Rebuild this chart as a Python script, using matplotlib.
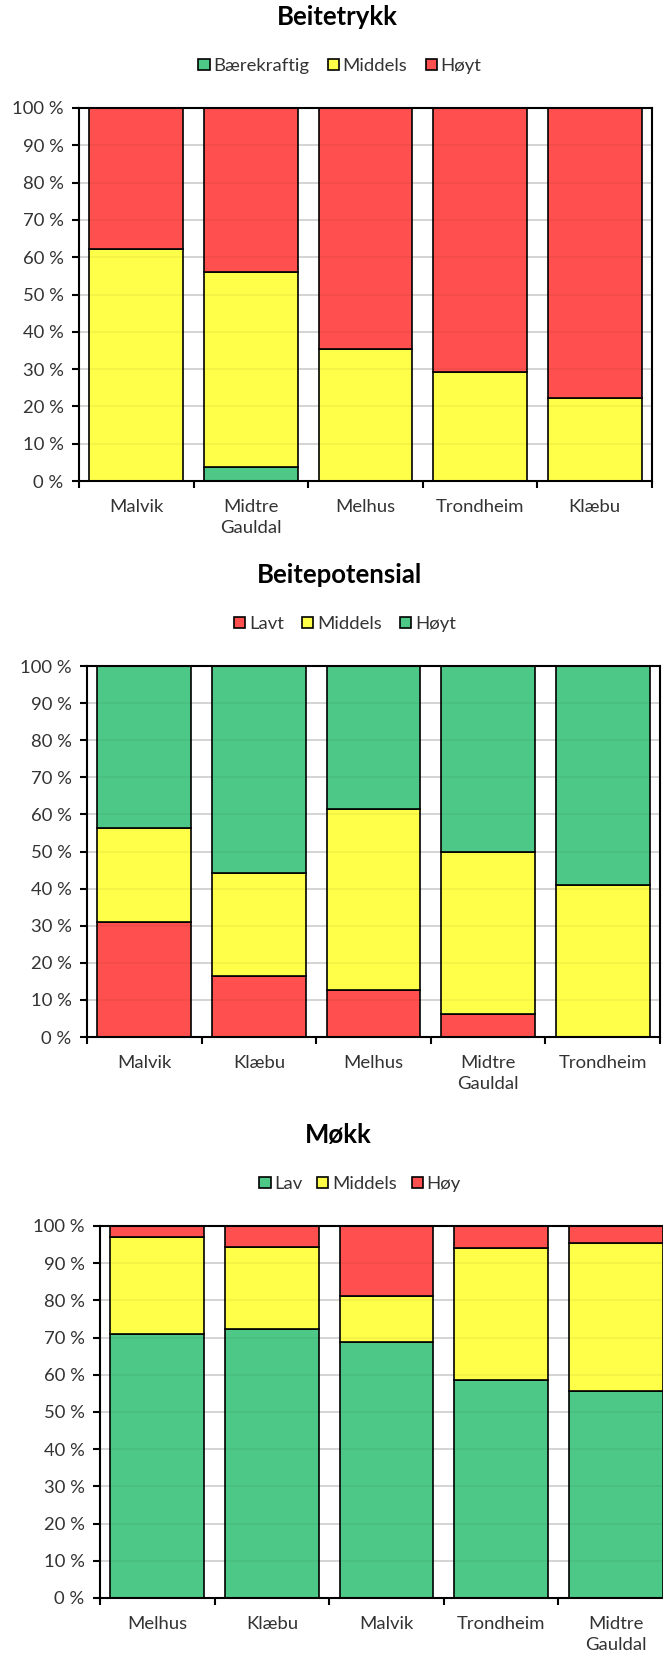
import matplotlib
matplotlib.use("Agg")
import matplotlib.pyplot as plt
import matplotlib.patches as mpatches
import numpy as np

plt.rcParams['font.family'] = ['Lato', 'DejaVu Sans']

RED = '#FF4F4F'
YELLOW = '#FFFF4A'
GREEN = '#4DC886'

# Beitetrykk
bt_cats = ["Malvik", "Midtre\nGauldal", "Melhus", "Trondheim", "Klæbu"]
bt_baerekraftig = [0.0, 3.8, 0.0, 0.0, 0.0]
bt_middels = [62.3, 52.3, 35.4, 29.1, 22.2]
bt_hoyt = [37.7, 43.9, 64.6, 70.9, 77.8]

# Beitepotensial
bp_cats = ["Malvik", "Klæbu", "Melhus", "Midtre\nGauldal", "Trondheim"]
bp_lavt = [31.0, 16.5, 12.8, 6.1, 0.0]
bp_middels = [25.3, 27.8, 48.6, 43.7, 41.1]
bp_hoyt = [43.7, 55.7, 38.6, 50.2, 58.9]

# Møkk
mk_cats = ["Melhus", "Klæbu", "Malvik", "Trondheim", "Midtre\nGauldal"]
mk_lav = [71.1, 72.2, 68.8, 58.7, 55.7]
mk_middels = [25.9, 22.2, 12.4, 35.4, 39.7]
mk_hoy = [3.0, 5.6, 18.8, 5.9, 4.6]

W, H = 663, 1655
fig = plt.figure(figsize=(W / 100, H / 100), dpi=100)

FS = 13.3


def chart(rect, title, title_xy, legend_xy, cats, series, colsp=1.0):
    left, right, top, bottom = rect
    ax = fig.add_axes([left / W, 1 - bottom / H, (right - left) / W, (bottom - top) / H])
    x = np.arange(len(cats))
    base = np.zeros(len(cats))
    handles = []
    for name, vals, col in series:
        vals = np.array(vals)
        ax.bar(x, vals, 0.82, bottom=base, color=col, edgecolor='black',
               linewidth=1.2, zorder=2)
        base += vals
        handles.append(mpatches.Patch(facecolor=col, edgecolor='black',
                                      linewidth=1.2, label=name))
    for v in range(10, 100, 10):
        ax.axhline(v, color='#D9D9D9', lw=1.2, zorder=1)
        ax.axhline(v, color='black', alpha=0.05, lw=1.2, zorder=3)
    ax.set_xlim(-0.5, len(cats) - 0.5)
    ax.set_ylim(0, 100)
    ax.set_yticks(range(0, 101, 10))
    ax.set_yticklabels([f"{v} %" for v in range(0, 101, 10)], fontsize=FS, color='#333333')
    ax.set_xticks(np.arange(len(cats) + 1) - 0.5)
    ax.set_xticklabels([])
    ax.set_xticks(x, minor=True)
    ax.set_xticklabels(cats, minor=True, fontsize=FS, color='#333333', linespacing=1.4)
    ax.tick_params(axis='x', which='major', length=5, width=1.5, direction='out')
    ax.tick_params(axis='x', which='minor', length=0, pad=13)
    ax.tick_params(axis='y', length=5, width=1.5, pad=6)
    for s in ax.spines.values():
        s.set_linewidth(1.5)
        s.set_color('black')
    fig.text(title_xy[0] / W, 1 - title_xy[1] / H, title, ha='center', va='center',
             fontsize=18.5, fontweight='bold', color='black')
    fig.legend(handles=handles, loc='center', ncol=3, frameon=False,
               bbox_to_anchor=(legend_xy[0] / W, 1 - legend_xy[1] / H),
               fontsize=FS, handlelength=0.6, handleheight=0.6,
               handletextpad=0.2, columnspacing=colsp, labelcolor='#333333')
    return ax


chart((79, 652, 108, 481), "Beitetrykk", (337, 17), (340, 66), bt_cats,
      [("Bærekraftig", bt_baerekraftig, GREEN),
       ("Middels", bt_middels, YELLOW),
       ("Høyt", bt_hoyt, RED)])

chart((87, 660, 666, 1037), "Beitepotensial", (340, 575), (345, 624), bp_cats,
      [("Lavt", bp_lavt, RED),
       ("Middels", bp_middels, YELLOW),
       ("Høyt", bp_hoyt, GREEN)])

chart((100, 673, 1226, 1598), "Møkk", (338, 1135), (360, 1184), mk_cats,
      [("Lav", mk_lav, GREEN),
       ("Middels", mk_middels, YELLOW),
       ("Høy", mk_hoy, RED)], colsp=0.8)

fig.savefig("out.png", dpi=100)
